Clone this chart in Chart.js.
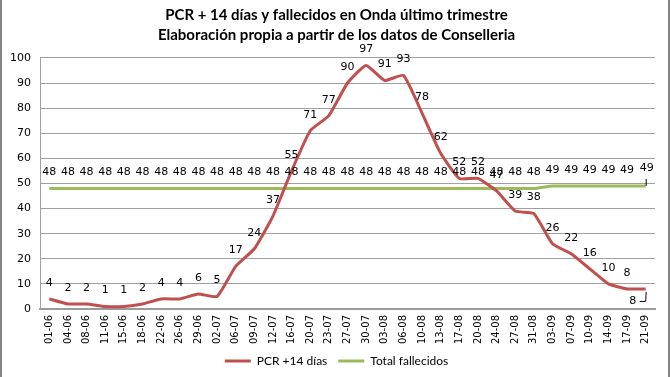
<!DOCTYPE html>
<html>
<head>
<meta charset="utf-8">
<script src="https://cdn.jsdelivr.net/npm/chart.js@4"></script>
<style>
  html, body { margin: 0; padding: 0; background: #fff; }
  #c { display: block; }
</style>
</head>
<body>
<canvas id="c" width="670" height="377"></canvas>
<script>
const categories = ["01-06","04-06","08-06","11-06","15-06","18-06","22-06","26-06","29-06","02-07",
  "06-07","09-07","12-07","16-07","20-07","23-07","27-07","30-07","03-08","06-08",
  "10-08","13-08","17-08","20-08","24-08","27-08","31-08","03-09","07-09","10-09",
  "14-09","17-09","21-09"];
const pcr14 = [4,2,2,1,1,2,4,4,6,5,17,24,37,55,71,77,90,97,91,93,78,62,52,52,47,39,38,26,22,16,10,8,8];
const fallecidos = [48,48,48,48,48,48,48,48,48,48,48,48,48,48,48,48,48,48,48,48,48,48,48,48,48,48,48,49,49,49,49,49,49];
const titleLines = ["PCR + 14 días y fallecidos en Onda último trimestre", "Elaboración propia a partir de los datos de Conselleria"];

const labelPlugin = {
  id: 'valueLabels',
  afterDatasetsDraw(chart) {
    const ctx = chart.ctx;
    ctx.save();
    ctx.font = '11px "DejaVu Sans"';
    ctx.fillStyle = '#000';
    ctx.textAlign = 'center';
    ctx.textBaseline = 'middle';
    chart.data.datasets.forEach((ds, di) => {
      const meta = chart.getDatasetMeta(di);
      meta.data.forEach((el, i) => {
        const last = i === meta.data.length - 1;
        const v = ds.data[i];
        if (di === 0 && last) {
          ctx.fillText(String(v), el.x - 13, el.y + 12);
          ctx.beginPath();
          ctx.strokeStyle = '#000';
          ctx.lineWidth = 1;
          ctx.moveTo(el.x - 6, el.y + 12.5);
          ctx.lineTo(el.x, el.y + 12.5);
          ctx.lineTo(el.x + 0.5, el.y + 3);
          ctx.stroke();
        } else if (di === 1 && last) {
          ctx.fillText(String(v), el.x + 1, el.y - 18);
          ctx.beginPath();
          ctx.strokeStyle = '#000';
          ctx.lineWidth = 1;
          ctx.moveTo(el.x + 0.5, el.y - 7);
          ctx.lineTo(el.x + 0.5, el.y);
          ctx.stroke();
        } else {
          ctx.fillText(String(v), el.x, el.y - 16);
        }
      });
    });
    ctx.restore();
  }
};

const framePlugin = {
  id: 'frame',
  afterLayout(chart) {
    // centre title and legend on the whole canvas, as in the reference
    [chart.titleBlock, chart.legend].forEach(b => {
      if (b) { b.left += 9; b.right += 9; }
    });
  },
  beforeDraw(chart) {
    const ctx = chart.ctx;
    ctx.save();
    ctx.fillStyle = '#fff';
    ctx.fillRect(0, 0, chart.width, chart.height);
    ctx.restore();
  },
  afterDraw(chart) {
    const ctx = chart.ctx;
    ctx.save();
    ctx.fillStyle = '#858585';
    ctx.fillRect(0, 0, 2, chart.height);
    ctx.fillRect(chart.width - 2, 0, 2, chart.height);
    ctx.restore();
  }
};

new Chart(document.getElementById('c'), {
  type: 'line',
  data: {
    labels: categories,
    datasets: [
      { label: 'PCR +14 días', data: pcr14, borderColor: '#C0504D', backgroundColor: '#C0504D',
        borderWidth: 3, pointRadius: 0, tension: 0.15 },
      { label: 'Total fallecidos', data: fallecidos, borderColor: '#9BBB59', backgroundColor: '#9BBB59',
        borderWidth: 3, pointRadius: 0, tension: 0.15 }
    ]
  },
  options: {
    responsive: false,
    animation: false,
    devicePixelRatio: 1,
    layout: { padding: { left: 0, right: 15, top: 0, bottom: 0 } },
    plugins: {
      title: {
        display: true,
        text: titleLines,
        color: '#000',
        font: { family: 'Lato', weight: 'bold', size: 15, lineHeight: 1.33 },
        padding: { top: 5, bottom: 13 }
      },
      legend: {
        display: true,
        position: 'bottom',
        labels: {
          usePointStyle: true,
          pointStyle: 'line',
          pointStyleWidth: 26,
          boxWidth: 26,
          color: '#000',
          font: { family: 'Lato', size: 12 },
          padding: 11
        }
      },
      tooltip: { enabled: false }
    },
    scales: {
      x: {
        offset: true,
        grid: { display: false, drawTicks: false, offset: true },
        border: { display: true, color: '#9a9a9a', width: 2 },
        ticks: {
          autoSkip: false, maxRotation: 90, minRotation: 90, padding: 6,
          color: '#000', font: { family: 'DejaVu Sans', size: 10 }
        },
        afterFit(s) { s.height = 35; }
      },
      y: {
        min: 0, max: 100,
        grid: { color: '#a0a0a0', drawTicks: false },
        border: { display: true, color: '#a0a0a0' },
        ticks: { stepSize: 10, padding: 9, color: '#000', font: { family: 'DejaVu Sans', size: 11 } },
        afterFit(s) { s.width = 40; }
      }
    }
  },
  plugins: [labelPlugin, framePlugin]
});
</script>
</body>
</html>
